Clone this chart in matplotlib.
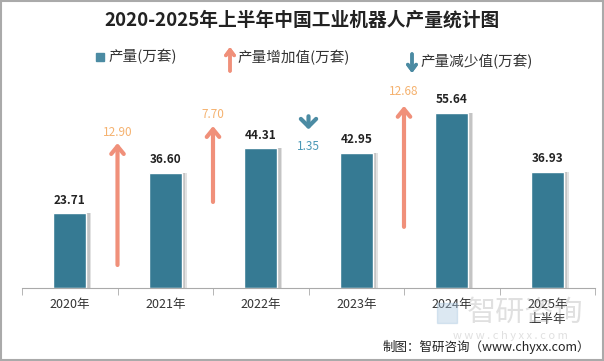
import matplotlib
matplotlib.use("Agg")
import matplotlib.pyplot as plt
from matplotlib.patches import Rectangle

plt.rcParams['font.family'] = ['Noto Sans CJK SC', 'DejaVu Sans']

# data
years = ['2020年', '2021年', '2022年', '2023年', '2024年', '2025年\n上半年']
output = [23.71, 36.60, 44.31, 42.95, 55.64, 36.93]
change = [12.90, 7.70, -1.35, 12.68]

# arrow spans (layout only, data units)
arrow_base = [7.3, 27.3, 54.5, 19.4]
arrow_tip = [46.0, 51.4, 50.3, 57.8]
label_y = [49.3, 54.9, 44.8, 62.5]

BAR = '#367a93'
UP = '#f0907a'
UP_TXT = '#f5b26f'
DOWN = '#4b8ba3'
DOWN_TXT = '#4a98b6'

fig = plt.figure(figsize=(6.04, 3.61), dpi=100)
ax = fig.add_axes([22/604, 73/361, 573/604, 208/361])

x = list(range(len(years)))
# soft shadow to the right of each bar
ax.bar([i + 0.05 for i in x], output, width=0.35, color='#e2e2e2', zorder=1)
ax.bar([i + 0.035 for i in x], output, width=0.35, color='#c4c4c4', zorder=1)
ax.bar(x, output, width=0.35, color=BAR, edgecolor='white', linewidth=1, zorder=2)
for i, v in enumerate(output):
    ax.text(i, v + 4.2, f'{v:.2f}', ha='center', va='center', fontsize=8.5,
            fontweight='bold', color='#222222', zorder=3)

for k, d in enumerate(change):
    xp = k + 0.5
    col = UP if d > 0 else DOWN
    hw = '0.45' if d > 0 else '0.55'
    ax.annotate('', xy=(xp, arrow_tip[k]), xytext=(xp, arrow_base[k]),
                arrowprops=dict(arrowstyle=f'->,head_length=0.55,head_width={hw}',
                                lw=3, color=col, shrinkA=0, shrinkB=0), zorder=3)
    ax.text(xp, label_y[k], f'{abs(d):.2f}', ha='center', va='center', fontsize=8.5,
            color=UP_TXT if d > 0 else DOWN_TXT)

ax.set_xlim(-0.5, len(years) - 0.5)
ax.set_ylim(0, 66)
ax.set_yticks([])
for s in ['left', 'right', 'top']:
    ax.spines[s].set_visible(False)
ax.spines['bottom'].set_color('#aaaaaa')
ax.set_xticks(x)
ax.set_xticklabels(years, fontsize=9, color='#333333')
ax.tick_params(axis='x', length=0, pad=7)
ax.set_xticks([i - 0.5 for i in range(len(years) + 1)], minor=True)
ax.tick_params(axis='x', which='minor', length=5, color='#aaaaaa')

# title
fig.text(0.5, 1 - 20/361, '2020-2025年上半年中国工业机器人产量统计图', ha='center', va='center',
         fontsize=13.5, fontweight='bold', color='#222222')

# legend
fig.patches.append(Rectangle((96/604, 1 - 61/361), 8/604, 8/361, transform=fig.transFigure,
                             color=DOWN, figure=fig))
fig.text(108/604, 1 - 57/361, '产量(万套)', ha='left', va='center', fontsize=10.5, color='#333333')
fig.add_artist(plt.annotate('', xy=(230/604, 1 - 47/361), xytext=(230/604, 1 - 71/361),
                            xycoords='figure fraction',
                            arrowprops=dict(arrowstyle='->,head_length=0.4,head_width=0.3',
                                            lw=2.5, color=UP, shrinkA=0, shrinkB=0)))
fig.text(237/604, 1 - 58/361, '产量增加值(万套)', ha='left', va='center', fontsize=10.5, color='#333333')
fig.add_artist(plt.annotate('', xy=(412/604, 1 - 73/361), xytext=(412/604, 1 - 54/361),
                            xycoords='figure fraction',
                            arrowprops=dict(arrowstyle='->,head_length=0.4,head_width=0.3',
                                            lw=2.5, color=DOWN, shrinkA=0, shrinkB=0)))
fig.text(420/604, 1 - 62/361, '产量减少值(万套)', ha='left', va='center', fontsize=10.5, color='#333333')

# watermark
fig.text(525/604, 1 - 313/361, '智研咨询', ha='center', va='center', fontsize=21,
         color='#999999', alpha=0.3, zorder=0)
fig.text(510/604, 1 - 336/361, 'w w w . c h y x x . c o m', ha='center', va='center',
         fontsize=8, color='#999999', alpha=0.3, zorder=0)
fig.patches.append(Rectangle((437/604, 1 - 323/361), 20/604, 20/361, transform=fig.transFigure,
                             color='#a9c6df', alpha=0.4, figure=fig, zorder=0))

# footer
fig.text(590/604, 1 - 347/361, '制图：智研咨询（www.chyxx.com）', ha='right', va='center',
         fontsize=9, color='#222222')

# frame
fig.patches.append(Rectangle((0.0015, 0.0025), 0.997, 0.995, transform=fig.transFigure,
                             fill=False, edgecolor='#aaaaaa', linewidth=1.5, figure=fig))

fig.savefig('out.png', dpi=100)
